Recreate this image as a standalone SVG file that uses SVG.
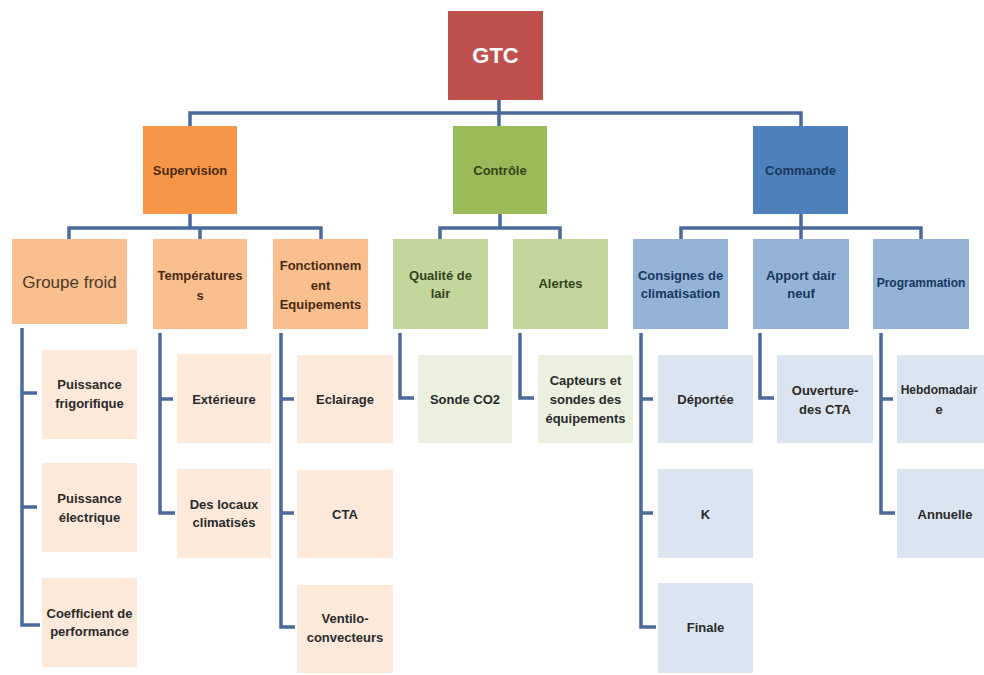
<svg xmlns="http://www.w3.org/2000/svg" width="984" height="675" viewBox="0 0 984 675">
<style>
text{font-family:"Liberation Sans",Arial,sans-serif;font-weight:bold;font-size:13px;text-anchor:middle;dominant-baseline:central}
.c{fill:none;stroke:#4a6a9a;stroke-width:3.5}
.o1{fill:#f79646}.o2{fill:#f9bf8f}.o3{fill:#fde9d9}
.g1{fill:#9bbb59}.g2{fill:#c3d69b}.g3{fill:#ebf1de}
.b1{fill:#4f81bd}.b2{fill:#95b3d7}.b3{fill:#dbe5f1}
.to{fill:#4a2a12}.tg{fill:#34431a}.tb{fill:#17375e}.t3{fill:#2a2a2a}
</style>
<rect width="984" height="675" fill="#ffffff"/>
<g id="connectors">
<path class="c" d="M499 100V126M190 126V113H801V126"/>
<path class="c" d="M190 214V228M69 239V228H321V239M200 228V239"/>
<path class="c" d="M500 214V228M440 239V228H560V239"/>
<path class="c" d="M801 214V239M681 239V228H921V239"/>
<path class="c" d="M22 328V625H40M22 393H37M22 507H37"/>
<path class="c" d="M160 333V513H175M160 399H173"/>
<path class="c" d="M281 333V627H295M281 399H294M281 513H294"/>
<path class="c" d="M400 333V398H414"/>
<path class="c" d="M520 333V398H534"/>
<path class="c" d="M641 333V627H656M641 399H653M641 513H653"/>
<path class="c" d="M760 333V398H774"/>
<path class="c" d="M881 333V513H895M881 399H893"/>
</g>
<g id="gtc"><rect x="448" y="11" width="95" height="89" fill="#c0504d"/><text x="495.5" y="55" style="font-size:22px;fill:#fff">GTC</text></g>
<g id="supervision"><rect class="o1" x="143" y="126" width="94" height="88"/><text class="to" x="190" y="170">Supervision</text></g>
<g id="controle"><rect class="g1" x="453" y="126" width="94" height="88"/><text class="tg" x="500" y="170">Contrôle</text></g>
<g id="commande"><rect class="b1" x="753" y="126" width="95" height="88"/><text class="tb" x="800.5" y="170">Commande</text></g>

<g id="groupe-froid"><rect class="o2" x="12" y="239" width="115" height="85"/><text x="69.5" y="282" style="font-weight:normal;font-size:17px;fill:#4a3a2a">Groupe froid</text></g>
<g id="temperatures"><rect class="o2" x="153" y="239" width="94" height="90"/><text class="to" x="200" y="275">Températures</text><text class="to" x="200" y="295">s</text></g>
<g id="fonctionnement"><rect class="o2" x="273" y="239" width="95" height="90"/><text class="to" x="320.5" y="265">Fonctionnem</text><text class="to" x="320.5" y="285">ent</text><text class="to" x="320.5" y="304">Equipements</text></g>
<g id="qualite"><rect class="g2" x="393" y="239" width="95" height="90"/><text class="tg" x="440.5" y="275">Qualité  de</text><text class="tg" x="440.5" y="293">lair</text></g>
<g id="alertes"><rect class="g2" x="513" y="239" width="95" height="90"/><text class="tg" x="560.5" y="283">Alertes</text></g>
<g id="consignes"><rect class="b2" x="633" y="239" width="95" height="90"/><text class="tb" x="680.5" y="275">Consignes de</text><text class="tb" x="680.5" y="293">climatisation</text></g>
<g id="apport"><rect class="b2" x="753" y="239" width="96" height="90"/><text class="tb" x="801" y="275">Apport dair</text><text class="tb" x="801" y="293">neuf</text></g>
<g id="programmation"><rect class="b2" x="873" y="239" width="96" height="90"/><text class="tb" x="921" y="283" style="font-size:12px">Programmation</text></g>

<g id="puissance-frigo"><rect class="o3" x="42" y="350" width="95" height="89"/><text class="t3" x="89.5" y="384">Puissance</text><text class="t3" x="89.5" y="403">frigorifique</text></g>
<g id="puissance-elec"><rect class="o3" x="42" y="463" width="95" height="89"/><text class="t3" x="89.5" y="498">Puissance</text><text class="t3" x="89.5" y="517">électrique</text></g>
<g id="coefficient"><rect class="o3" x="42" y="578" width="95" height="89"/><text class="t3" x="89.5" y="613">Coefficient de</text><text class="t3" x="89.5" y="631">performance</text></g>
<g id="exterieure"><rect class="o3" x="177" y="354" width="94" height="89"/><text class="t3" x="224" y="399">Extérieure</text></g>
<g id="locaux"><rect class="o3" x="177" y="469" width="94" height="89"/><text class="t3" x="224" y="504">Des locaux</text><text class="t3" x="224" y="522">climatisés</text></g>
<g id="eclairage"><rect class="o3" x="297" y="355" width="96" height="88"/><text class="t3" x="345" y="399">Eclairage</text></g>
<g id="cta"><rect class="o3" x="297" y="470" width="96" height="88"/><text class="t3" x="345" y="514">CTA</text></g>
<g id="ventilo"><rect class="o3" x="297" y="585" width="96" height="88"/><text class="t3" x="345" y="618">Ventilo-</text><text class="t3" x="345" y="637">convecteurs</text></g>
<g id="sonde"><rect class="g3" x="418" y="355" width="94" height="88"/><text class="t3" x="465" y="399">Sonde CO2</text></g>
<g id="capteurs"><rect class="g3" x="538" y="355" width="95" height="88"/><text class="t3" x="585.5" y="380">Capteurs et</text><text class="t3" x="585.5" y="399">sondes des</text><text class="t3" x="585.5" y="418">équipements</text></g>
<g id="deportee"><rect class="b3" x="658" y="355" width="95" height="88"/><text class="t3" x="705.5" y="399">Déportée</text></g>
<g id="k"><rect class="b3" x="658" y="469" width="95" height="89"/><text class="t3" x="705.5" y="514">K</text></g>
<g id="finale"><rect class="b3" x="658" y="583" width="95" height="90"/><text class="t3" x="705.5" y="627">Finale</text></g>
<g id="ouverture"><rect class="b3" x="777" y="355" width="96" height="88"/><text class="t3" x="825" y="390">Ouverture-</text><text class="t3" x="825" y="409">des CTA</text></g>
<g id="hebdo"><rect class="b3" x="897" y="355" width="96" height="88"/><text class="t3" x="939" y="390" style="font-size:12px">Hebdomadair</text><text class="t3" x="939" y="409">e</text></g>
<g id="annuelle"><rect class="b3" x="897" y="469" width="96" height="89"/><text class="t3" x="945" y="514">Annuelle</text></g>
</svg>
